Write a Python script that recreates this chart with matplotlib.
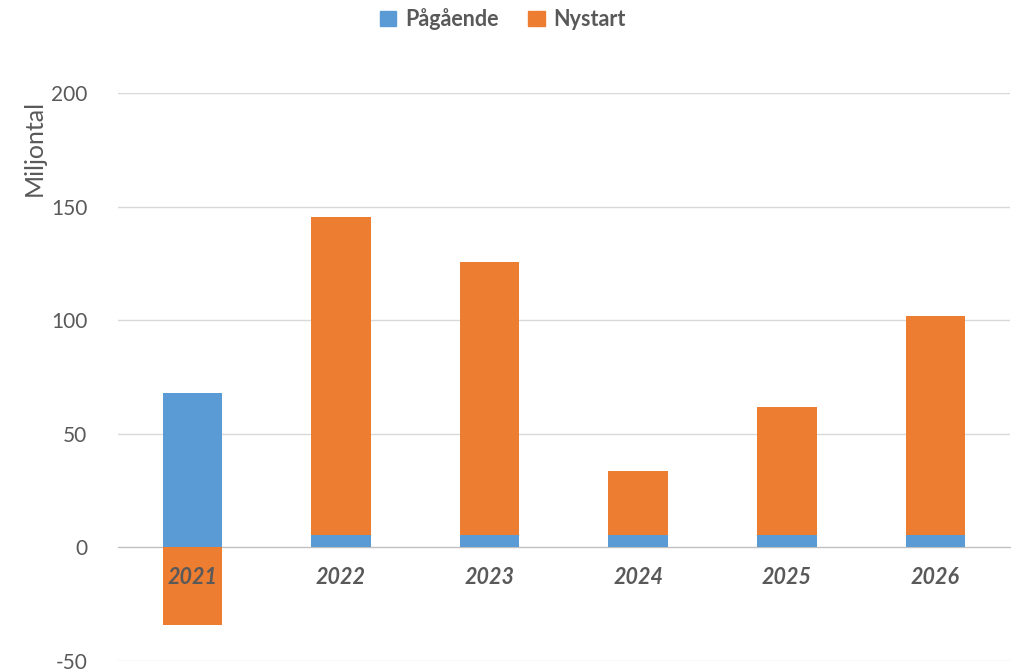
import matplotlib.pyplot as plt
from matplotlib.patches import Patch
from matplotlib.transforms import offset_copy

plt.rcParams['font.family'] = ['Lato', 'DejaVu Sans']
plt.rcParams['axes.unicode_minus'] = False

years = ['2021', '2022', '2023', '2024', '2025', '2026']
pagaende = [68, 5.5, 5.5, 5.5, 5.5, 5.5]
nystart = [-34, 140, 120, 28, 56.5, 96.5]

blue = '#5B9BD5'
orange = '#ED7D31'
grey = '#595959'

fig = plt.figure(figsize=(10.2, 6.71), dpi=100)
ax = fig.add_axes([0.1157, 0.0149, 0.8743, 0.8465])

x = list(range(len(years)))
# positive Nystart stacks on top of Pågående, negative goes below zero
bottoms = [p if n >= 0 else 0 for p, n in zip(pagaende, nystart)]
ax.bar(x, pagaende, width=0.4, color=blue, zorder=2)
ax.bar(x, nystart, width=0.4, bottom=bottoms, color=orange, zorder=2)

ax.set_xlim(-0.5, len(years) - 0.5)
ax.set_ylim(-50, 200)
ax.set_yticks([-50, 0, 50, 100, 150, 200])
ax.yaxis.grid(True, color='#d9d9d9', linewidth=1, zorder=0)
ax.set_axisbelow(True)

for s in ['top', 'right', 'left']:
    ax.spines[s].set_visible(False)
ax.spines['bottom'].set_position(('data', 0))
ax.spines['bottom'].set_color('#bfbfbf')
ax.spines['bottom'].set_zorder(1)

ax.set_xticks(x)
ax.set_xticklabels([])
ax.tick_params(axis='x', length=0)
ax.tick_params(axis='y', length=0, pad=22, labelsize=15, labelcolor=grey)

# category labels just under the zero line, drawn over the bars
trans = offset_copy(ax.transData, fig=fig, x=0, y=-30, units='dots')
for i, yr in enumerate(years):
    ax.text(i, 0, yr, transform=trans, ha='center', va='center', fontsize=15.5,
            fontweight='bold', style='italic', color=grey, zorder=5)

fig.text(0.034, 0.779, 'Miljontal', rotation=90, fontsize=18, color=grey,
         ha='center', va='center')

handles = [Patch(color=blue, label='Pågående'), Patch(color=orange, label='Nystart')]
fig.legend(handles=handles, loc='upper center', bbox_to_anchor=(0.493, 1.017), ncol=2,
           frameon=False, prop={'weight': 'bold', 'size': 15.5},
           labelcolor=grey, handlelength=0.75, handleheight=0.75, columnspacing=1.4,
           handletextpad=0.4)

fig.savefig('out.png')
